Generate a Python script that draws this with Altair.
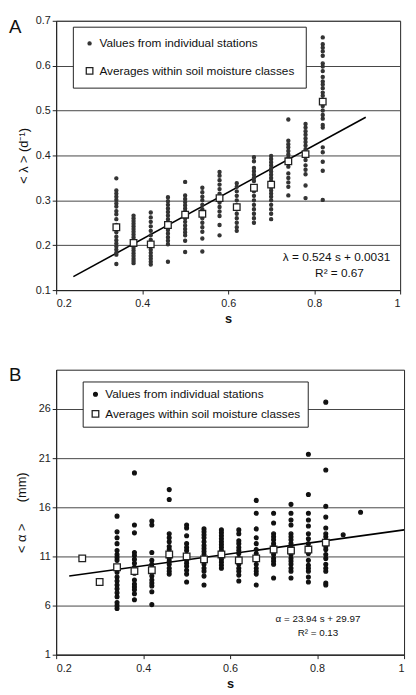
import altair as alt
import pandas as pd

KINDS = ["Values from individual stations", "Averages within soil moisture classes"]
S_CLASSES = [0.34, 0.38, 0.42, 0.46, 0.50, 0.54, 0.58, 0.62, 0.66, 0.70, 0.74, 0.78, 0.82]

# ---------------- Panel A : <lambda> (1/d) ----------------
A_034 = [0.349, 0.322, 0.315, 0.308, 0.301, 0.293, 0.286, 0.276, 0.269, 0.258, 0.245, 0.229, 0.219, 0.211, 0.204, 0.197, 0.190, 0.183, 0.179, 0.158]
A_038 = [0.266, 0.260, 0.254, 0.248, 0.242, 0.236, 0.230, 0.224, 0.218, 0.212, 0.206, 0.200, 0.194, 0.188, 0.182, 0.176, 0.170, 0.165, 0.160]
A_042 = [0.273, 0.262, 0.252, 0.242, 0.232, 0.222, 0.212, 0.205, 0.198, 0.190, 0.183, 0.176, 0.170, 0.163, 0.157]
A_046 = [0.307, 0.298, 0.290, 0.282, 0.274, 0.266, 0.258, 0.250, 0.242, 0.234, 0.226, 0.218, 0.210, 0.202, 0.163]
A_050 = [0.341, 0.311, 0.303, 0.296, 0.289, 0.282, 0.275, 0.268, 0.260, 0.252, 0.244, 0.236, 0.229, 0.222, 0.210, 0.185]
A_054 = [0.328, 0.318, 0.308, 0.300, 0.290, 0.280, 0.270, 0.260, 0.250, 0.240, 0.230, 0.215, 0.186]
A_058 = [0.363, 0.355, 0.345, 0.335, 0.325, 0.315, 0.305, 0.295, 0.285, 0.275, 0.265, 0.245, 0.222]
A_062 = [0.338, 0.330, 0.320, 0.310, 0.300, 0.290, 0.280, 0.270, 0.260, 0.250, 0.240, 0.232]
A_066 = [0.396, 0.387, 0.372, 0.365, 0.357, 0.350, 0.343, 0.330, 0.320, 0.310, 0.300, 0.290, 0.280, 0.270, 0.260, 0.250]
A_070 = [0.399, 0.392, 0.385, 0.378, 0.371, 0.364, 0.357, 0.350, 0.343, 0.336, 0.329, 0.322, 0.315, 0.308, 0.300, 0.290, 0.280, 0.270, 0.258]
A_074 = [0.480, 0.433, 0.425, 0.418, 0.410, 0.402, 0.395, 0.388, 0.375, 0.360, 0.350, 0.340, 0.330, 0.311]
A_078 = [0.470, 0.462, 0.454, 0.446, 0.438, 0.430, 0.422, 0.414, 0.406, 0.398, 0.390, 0.378, 0.368, 0.358, 0.333, 0.305]
A_082 = [0.663, 0.648, 0.640, 0.632, 0.622, 0.605, 0.598, 0.588, 0.575, 0.565, 0.558, 0.550, 0.540, 0.533, 0.510, 0.500, 0.490, 0.482, 0.468, 0.462, 0.418, 0.407, 0.386, 0.366, 0.301]
A_COLUMNS = [A_034, A_038, A_042, A_046, A_050, A_054, A_058, A_062, A_066, A_070, A_074, A_078, A_082]
A_AVG_S = S_CLASSES
A_AVG = [0.240, 0.205, 0.202, 0.245, 0.268, 0.270, 0.305, 0.285, 0.328, 0.335, 0.387, 0.403, 0.520]
A_FIT_S = [0.24, 0.92]
A_FIT = [0.130, 0.485]
A_EQ = ["λ = 0.524 s + 0.0031", "R² = 0.67"]

# ---------------- Panel B : <alpha> (mm) ----------------
B_034 = [15.1, 13.5, 12.9, 12.3, 11.6, 11.2, 10.9, 10.6, 9.9, 9.4, 8.9, 8.5, 8.1, 7.7, 7.3, 6.9, 6.3, 6.0, 5.7]
B_038 = [19.5, 14.2, 13.4, 11.4, 11.1, 10.7, 10.3, 9.9, 9.3, 8.6, 8.2, 7.9, 7.6, 7.2, 6.6]
B_042 = [14.6, 14.2, 11.4, 10.6, 10.2, 9.9, 9.5, 9.0, 8.6, 8.3, 8.0, 7.4, 6.1]
B_046 = [17.8, 16.8, 13.3, 12.9, 12.5, 12.0, 11.7, 11.3, 10.8, 10.5, 10.2, 9.8, 9.5, 9.2]
B_050 = [14.2, 13.9, 13.1, 12.3, 11.9, 11.6, 11.1, 10.6, 10.3, 10.0, 9.6, 9.2, 8.4]
B_054 = [13.8, 13.5, 13.2, 12.9, 12.5, 12.1, 11.8, 11.5, 11.2, 10.8, 10.5, 10.2, 9.8, 9.5, 9.0, 8.1]
B_058 = [13.7, 13.4, 13.1, 12.8, 12.5, 12.2, 11.9, 11.6, 11.3, 11.0, 10.7, 10.4, 10.1, 9.8]
B_062 = [13.7, 13.3, 12.6, 12.3, 11.9, 11.6, 11.3, 10.8, 10.5, 10.2, 9.8, 9.5, 9.1, 8.5]
B_066 = [16.7, 15.4, 13.8, 12.9, 12.3, 11.7, 11.3, 10.2, 9.8, 9.5, 9.2, 8.1]
B_070 = [15.4, 14.4, 13.3, 13.0, 12.7, 12.3, 12.0, 11.5, 11.2, 10.8, 10.5, 10.2, 8.8]
B_074 = [16.3, 15.4, 14.7, 14.2, 13.3, 13.0, 12.7, 12.3, 12.0, 11.5, 11.2, 10.8, 10.5, 10.2, 9.8, 9.5, 8.8]
B_078 = [21.4, 17.3, 15.4, 14.7, 14.1, 13.3, 12.8, 12.3, 11.8, 11.3, 10.6, 10.1, 9.8, 9.5, 8.9, 8.4]
B_082 = [26.7, 19.8, 16.1, 15.0, 13.9, 13.3, 13.0, 12.6, 12.0, 11.7, 11.2, 10.8, 10.2, 9.8, 9.5, 8.3, 8.1]
B_COLUMNS = [B_034, B_038, B_042, B_046, B_050, B_054, B_058, B_062, B_066, B_070, B_074, B_078, B_082]
B_EXTRA_S = [0.86, 0.90]
B_EXTRA = [13.2, 15.5]
B_AVG_S = [0.26, 0.30] + S_CLASSES
B_AVG = [10.8, 8.4, 9.9, 9.5, 9.6, 11.2, 11.0, 10.7, 11.2, 10.6, 10.8, 11.7, 11.6, 11.7, 12.4]
B_FIT_S = [0.23, 1.0]
B_FIT = [9.0, 13.7]
B_EQ = ["α = 23.94 s + 29.97", "R² = 0.13"]

FONT = "Liberation Sans"


def points_frame(columns, extra_s, extra_v, avg_s, avg_v):
    rows = []
    for s, col in zip(S_CLASSES, columns):
        for v in col:
            rows.append({"s": s, "v": v, "kind": KINDS[0]})
    for s, v in zip(extra_s, extra_v):
        rows.append({"s": s, "v": v, "kind": KINDS[0]})
    for s, v in zip(avg_s, avg_v):
        rows.append({"s": s, "v": v, "kind": KINDS[1]})
    return pd.DataFrame(rows)


def panel(df, fit_s, fit_v, ydom, yvals, yfmt, ytitle, ytitle_pad, w, h, dot_color, sizes,
          leg_x, leg_y, leg_row, leg_pad, label, eq_texts, eq_pos, eq_font, eq_align):
    x = alt.X("s:Q", scale=alt.Scale(domain=[0.2, 1.0], nice=False, zero=False),
              axis=alt.Axis(values=[0.2, 0.4, 0.6, 0.8, 1.0], format=".1~f", title="s", grid=False,
                            titleFontWeight="bold", titleFontSize=13, titlePadding=4, labelPadding=4))
    y = alt.Y("v:Q", scale=alt.Scale(domain=ydom, nice=False, zero=False),
              axis=alt.Axis(values=yvals, format=yfmt, title=ytitle, grid=True,
                            titleFontWeight="normal", titleFontSize=13, titlePadding=ytitle_pad,
                            labelPadding=2))
    pts = alt.Chart(df).mark_point(filled=True, opacity=1, strokeWidth=1.3).encode(
        x=x, y=y,
        shape=alt.Shape("kind:N", scale=alt.Scale(domain=KINDS, range=["circle", "square"]),
                        legend=alt.Legend(orient="none", legendX=leg_x, legendY=leg_y, title=None,
                                          strokeColor="#222222", fillColor="#ffffff", padding=leg_pad,
                                          rowPadding=leg_row, labelFont=FONT, labelFontSize=12,
                                          labelColor="#111111", labelOffset=4, cornerRadius=0,
                                          labelLimit=400, symbolStrokeWidth=1.3)),
        fill=alt.Fill("kind:N", scale=alt.Scale(domain=KINDS, range=[dot_color, "#ffffff"])),
        stroke=alt.Stroke("kind:N", scale=alt.Scale(domain=KINDS, range=[dot_color, "#222222"])),
        size=alt.Size("kind:N", scale=alt.Scale(domain=KINDS, range=sizes)),
    )
    fit = alt.Chart(pd.DataFrame({"s": fit_s, "v": fit_v})).mark_line(
        color="#000000", strokeWidth=1.6).encode(x="s:Q", y="v:Q")
    eq1 = alt.Chart(pd.DataFrame({"s": [eq_pos[0][0]], "v": [eq_pos[0][1]], "t": [eq_texts[0]]})).mark_text(
        align=eq_align, baseline="middle", font=FONT, fontSize=eq_font, color="#111111").encode(
        x="s:Q", y="v:Q", text="t:N")
    eq2 = alt.Chart(pd.DataFrame({"s": [eq_pos[1][0]], "v": [eq_pos[1][1]], "t": [eq_texts[1]]})).mark_text(
        align="center", baseline="middle", font=FONT, fontSize=eq_font, color="#111111").encode(
        x="s:Q", y="v:Q", text="t:N")
    lab = alt.Chart(pd.DataFrame({"t": [label]})).mark_text(
        align="left", baseline="top", font=FONT, fontSize=19, color="#111111").encode(
        x=alt.value(-48), y=alt.value(-3), text="t:N")
    return alt.layer(fit, pts, eq1, eq2, lab).properties(width=w, height=h)


dfA = points_frame(A_COLUMNS, [], [], A_AVG_S, A_AVG)
dfB = points_frame(B_COLUMNS, B_EXTRA_S, B_EXTRA, B_AVG_S, B_AVG)

chartA = panel(dfA, A_FIT_S, A_FIT, [0.1, 0.7], [0.1, 0.2, 0.3, 0.4, 0.5, 0.6, 0.7], ".1f",
               "< λ >  (d⁻¹)", 5, 350, 274, "#333333", [10, 45],
               17, 6, 16, 11, "A", A_EQ, [(0.977, 0.173), (0.859, 0.139)], 12, "right")
chartB = panel(dfB, B_FIT_S, B_FIT, [1, 30], [1, 6, 11, 16, 21, 26], "d",
               "< α >\u00a0\u00a0\u00a0\u00a0\u00a0\u00a0(mm)", 10, 354, 290, "#111111", [15, 45],
               27, 12, 8, 7, "B", B_EQ, [(0.802, 4.6), (0.802, 3.2)], 10, "center")

chart = alt.vconcat(chartA, chartB, spacing=40).properties(padding=0).resolve_scale(
    shape="independent", fill="independent", stroke="independent", size="independent"
).resolve_legend(
    shape="independent", fill="independent", stroke="independent", size="independent"
).configure_view(
    stroke="#222222", strokeWidth=1
).configure_axis(
    domainColor="#222222", tickColor="#222222", gridColor="#444444", gridWidth=1,
    labelFont=FONT, titleFont=FONT, labelColor="#222222", titleColor="#111111",
    labelFontSize=11, tickSize=4
)

chart.save("out.html", embed_options={"renderer": "svg", "actions": False})
